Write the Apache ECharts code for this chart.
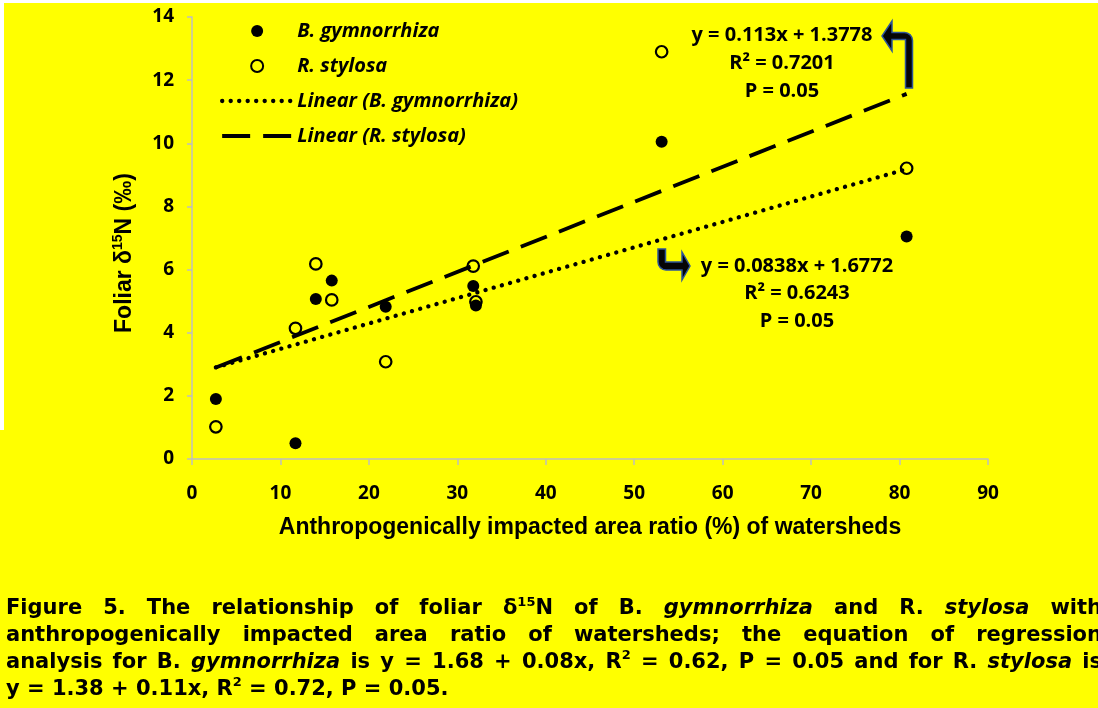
<!DOCTYPE html>
<html>
<head>
<meta charset="utf-8">
<script src="https://cdn.jsdelivr.net/npm/echarts@6/dist/echarts.min.js"></script>
<style>
html,body{margin:0;padding:0;background:#ffff00;}
#chart{width:1098px;height:708px;}
</style>
</head>
<body>
<div id="chart"></div>
<script>
// ---------- data ----------
const watershedRatio = [2.7, 11.7, 14.0, 15.8, 21.9, 31.8, 32.1, 53.1, 80.8];
const gymnorrhizaN15 = [1.90, 0.50, 5.07, 5.65, 4.82, 5.48, 4.86, 10.05, 7.05];
const stylosaN15     = [1.02, 4.14, 6.18, 5.04, 3.08, 6.11, 4.98, 12.90, 9.21];
const xTickLabels = ['0','10','20','30','40','50','60','70','80','90'];
const yTickLabels = ['0','2','4','6','8','10','12','14'];
const seriesNames = ['B. gymnorrhiza', 'R. stylosa', 'Linear (B. gymnorrhiza)', 'Linear (R. stylosa)'];
const stylosaEquation = ['y = 0.113x + 1.3778', 'R² = 0.7201', 'P = 0.05'];
const gymnorrhizaEquation = ['y = 0.0838x + 1.6772', 'R² = 0.6243', 'P = 0.05'];
const xTitle = 'Anthropogenically impacted area ratio (%) of watersheds';
const yTitle = 'Foliar δ{s|15}N (‰)';
const captionLines = [
  'Figure 5. The relationship of foliar δ{s|15}N of B. {i|gymnorrhiza} and R. {i|stylosa} with',
  'anthropogenically impacted area ratio of watersheds; the equation of regression',
  'analysis for B. {i|gymnorrhiza} is y = 1.68 + 0.08x, R{s|2} = 0.62, P = 0.05 and for R. {i|stylosa} is',
  'y = 1.38 + 0.11x, R{s|2} = 0.72, P = 0.05.'
];

// ---------- helpers ----------
function pairs(xs, ys){ return xs.map((x,i)=>[x, ys[i]]); }
function trend(xs, ys){
  const n = xs.length;
  const mx = xs.reduce((a,b)=>a+b,0)/n, my = ys.reduce((a,b)=>a+b,0)/n;
  let sxy=0, sxx=0;
  for(let i=0;i<n;i++){ sxy += (xs[i]-mx)*(ys[i]-my); sxx += (xs[i]-mx)*(xs[i]-mx); }
  const b = sxy/sxx, a = my - b*mx;
  const x0 = Math.min(...xs), x1 = Math.max(...xs);
  return [[x0, a+b*x0],[x1, a+b*x1]];
}

// ---------- caption layout (justified, real text) ----------
const CAP_FS = 21, CAP_LH = 26.8, CAP_LEFT = 6, CAP_RIGHT = 1102, CAP_TOP = 596;
const capRich = {
  n: {fontFamily:'DejaVu Sans', fontWeight:'bold', fontStyle:'normal', fontSize:CAP_FS, lineHeight:26, fill:'#000'},
  i: {fontFamily:'DejaVu Sans', fontWeight:'bold', fontStyle:'italic', fontSize:CAP_FS, lineHeight:26, fill:'#000'},
  s: {fontFamily:'DejaVu Sans', fontWeight:'bold', fontStyle:'normal', fontSize:13, lineHeight:14, verticalAlign:'top', fill:'#000'}
};
const mctx = document.createElement('canvas').getContext('2d');
function fontOf(st){ return `${st.fontStyle||'normal'} ${st.fontWeight||'normal'} ${st.fontSize}px ${st.fontFamily}`; }
function parseWord(w){
  const segs=[]; const re=/\{(\w+)\|([^}]*)\}|([^{]+)/g; let m;
  while((m=re.exec(w))){ if(m[1]) segs.push([m[1],m[2]]); else segs.push(['n',m[3]]); }
  return segs;
}
function segWidth(segs){ return segs.reduce((w,[k,t])=>{ mctx.font=fontOf(capRich[k]); return w+mctx.measureText(t).width; },0); }
function segRich(segs){ return segs.map(([k,t])=>`{${k}|${t}}`).join(''); }

const graphics = [
  {type:'rect', shape:{x:0,y:0,width:1098,height:3}, style:{fill:'#ffffff'}, silent:true, z:0},
  {type:'rect', shape:{x:0,y:0,width:4,height:430}, style:{fill:'#ffffff'}, silent:true, z:0}
];
mctx.font = fontOf(capRich.n);
const spaceW = mctx.measureText(' ').width;
captionLines.forEach((line, li)=>{
  const words = line.split(' ').map(parseWord);
  const widths = words.map(segWidth);
  const total = widths.reduce((a,b)=>a+b,0);
  const last = li === captionLines.length-1;
  const gap = last ? spaceW : (CAP_RIGHT-CAP_LEFT-total)/(words.length-1);
  let x = CAP_LEFT;
  words.forEach((segs,i)=>{
    graphics.push({type:'text', x:x, y:CAP_TOP+li*CAP_LH, silent:true,
      style:{text:segRich(segs), rich:capRich, align:'left', verticalAlign:'top',
             fontFamily:'DejaVu Sans', fontWeight:'bold', fontSize:CAP_FS, lineHeight:26, fill:'#000'}});
    x += widths[i]+gap;
  });
});

// equations
const eqStyle = {fontFamily:'Open Sans', fontWeight:'bold', fontSize:20, fill:'#000', align:'center', verticalAlign:'middle'};
stylosaEquation.forEach((t,i)=>graphics.push({type:'text', x:782, y:35+i*28, silent:true, style:Object.assign({text:t}, eqStyle)}));
gymnorrhizaEquation.forEach((t,i)=>graphics.push({type:'text', x:797, y:266+i*27.5, silent:true, style:Object.assign({text:t}, eqStyle)}));

// y-axis title (rotated, with superscript)
graphics.push({type:'text', x:125, y:253, rotation:Math.PI/2, silent:true,
  style:{text:yTitle, align:'center', verticalAlign:'middle', fontFamily:'Liberation Sans', fontWeight:'bold', fontSize:23, lineHeight:28, fill:'#000',
    rich:{s:{fontFamily:'Liberation Sans', fontWeight:'bold', fontSize:14, lineHeight:15, verticalAlign:'top', fill:'#000'}}}});

// bent arrows pointing to the equations (decorations)
const arrowStyle = {fill:'#050505', stroke:'#2f5597', lineWidth:1.5};
graphics.push({type:'polygon', silent:true, z:10, style:arrowStyle, shape:{points:[
  [905.5,88],[905.5,39.5],[892,39.5],[892,51],[882,36],[892,21],[892,32.5],[904.5,32.5],
  [907.56,33.11],[910.16,34.84],[911.89,37.44],[912.5,40.5],[912.5,88]
]}});
graphics.push({type:'polygon', silent:true, z:10, style:arrowStyle, shape:{points:[
  [658,249],[658,262],[658.61,265.06],[660.34,267.66],[662.94,269.39],[666,270],
  [682,270],[682,280],[690,266],[682,252],[682,262],[665.5,262],[665.5,249]
]}});

// ---------- chart ----------
const chart = echarts.init(document.getElementById('chart'), null, {renderer:'canvas'});
const axisLineStyle = {color:'#bfbfbf', width:1.5};
const tickLabel = {fontFamily:'Open Sans', fontWeight:'bold', fontSize:19, color:'#000'};
const noFill = 'rgba(0,0,0,0)';
chart.setOption({
  backgroundColor:'#ffff00',
  animation:false,
  grid:{left:192, right:110, top:17, bottom:249},
  xAxis:{type:'value', min:0, max:90, interval:10,
    axisLine:{show:true, lineStyle:axisLineStyle},
    axisTick:{show:true, length:6, lineStyle:axisLineStyle},
    splitLine:{show:false},
    axisLabel:Object.assign({margin:25, formatter:v=>xTickLabels[Math.round(v/10)]}, tickLabel),
    name:xTitle, nameLocation:'middle', nameGap:57,
    nameTextStyle:{fontFamily:'Liberation Sans', fontWeight:'bold', fontSize:23, color:'#000'}
  },
  yAxis:{type:'value', min:0, max:14, interval:2,
    axisLine:{show:true, lineStyle:axisLineStyle},
    axisTick:{show:true, length:5, lineStyle:axisLineStyle},
    splitLine:{show:false},
    axisLabel:Object.assign({margin:18, formatter:v=>yTickLabels[Math.round(v/2)]}, tickLabel)
  },
  legend:{orient:'vertical', left:215, top:16, padding:5, itemWidth:70, itemHeight:12, itemGap:15,
    textStyle:{fontFamily:'Open Sans', fontWeight:'bold', fontStyle:'italic', fontSize:20, color:'#000'},
    lineStyle:{width:'inherit'},
    data:seriesNames},
  graphic:{elements:graphics},
  series:[
    {name:seriesNames[0], type:'scatter', data:pairs(watershedRatio, gymnorrhizaN15), symbol:'circle', symbolSize:12,
      itemStyle:{color:'#000', opacity:1}, z:2},
    {name:seriesNames[1], type:'scatter', data:pairs(watershedRatio, stylosaN15), symbol:'circle', symbolSize:11.5,
      itemStyle:{color:noFill, borderColor:'#000', borderWidth:2.2, opacity:1}, z:2},
    {name:seriesNames[2], type:'line', data:trend(watershedRatio, gymnorrhizaN15), symbol:'none', silent:true,
      itemStyle:{color:noFill}, lineStyle:{color:'#000', width:4.3, type:[0.1,8.4], cap:'round'}, z:3},
    {name:seriesNames[3], type:'line', data:trend(watershedRatio, stylosaN15), symbol:'none', silent:true,
      itemStyle:{color:noFill}, lineStyle:{color:'#000', width:3.8, type:[28,13]}, z:3}
  ]
});
</script>
</body>
</html>
